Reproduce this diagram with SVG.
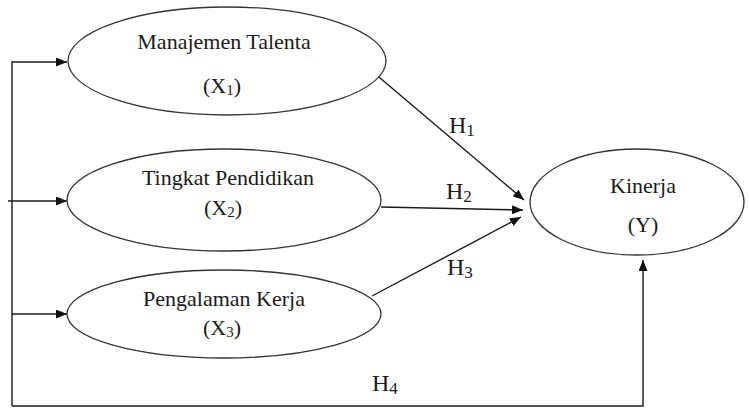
<svg xmlns="http://www.w3.org/2000/svg" width="749" height="411" viewBox="0 0 749 411">
<style>
text{font-family:"Liberation Serif","Times New Roman",serif;font-size:22px;fill:#1a1a1a;text-anchor:middle}
.sub{font-size:15px}
.conn path,.conn line{fill:none;stroke:#1a1a1a;stroke-width:1.4}
.lbl{text-anchor:start;font-size:24px}
.lbl .sub{font-size:17px}
.nd{fill:#fff;stroke:#333;stroke-width:1.3}
</style>
<defs>
<marker id="ah" markerWidth="11" markerHeight="9" refX="11" refY="4.5" orient="auto" markerUnits="userSpaceOnUse">
<path d="M0,0 L11,4.5 L0,9 Z" fill="#111"/>
</marker>
</defs>
<g class="conn" id="connectors">
<path d="M12,406 L12,62 L67,62" marker-end="url(#ah)"/>
<line x1="8" y1="201" x2="67" y2="201" marker-end="url(#ah)"/>
<line x1="12" y1="314" x2="67" y2="314" marker-end="url(#ah)"/>
<path d="M12,406 L643,406 L643,260" marker-end="url(#ah)"/>
<line x1="373" y1="72" x2="524" y2="200" marker-end="url(#ah)"/>
<line x1="381" y1="207" x2="523" y2="210" marker-end="url(#ah)"/>
<line x1="372" y1="296" x2="521" y2="217" marker-end="url(#ah)"/>
</g>
<g id="x1">
<ellipse class="nd" cx="227" cy="61" rx="159" ry="54"/>
<text x="224" y="49">Manajemen Talenta</text>
<text x="222" y="93">(X<tspan class="sub" dy="2">1</tspan><tspan dy="-2">)</tspan></text>
</g>
<g id="x2">
<ellipse class="nd" cx="224" cy="200" rx="157" ry="51"/>
<text x="228" y="185">Tingkat Pendidikan</text>
<text x="223" y="215">(X<tspan class="sub" dy="2">2</tspan><tspan dy="-2">)</tspan></text>
</g>
<g id="x3">
<ellipse class="nd" cx="224" cy="314" rx="157" ry="44"/>
<text x="224" y="306">Pengalaman Kerja</text>
<text x="222" y="335">(X<tspan class="sub" dy="2">3</tspan><tspan dy="-2">)</tspan></text>
</g>
<g id="y">
<ellipse class="nd" cx="637" cy="202" rx="107" ry="53"/>
<text x="643" y="193">Kinerja</text>
<text x="643" y="232">(Y)</text>
</g>
<g id="labels">
<text class="lbl" x="449" y="133">H<tspan class="sub" dy="3">1</tspan></text>
<text class="lbl" x="446" y="199">H<tspan class="sub" dy="3">2</tspan></text>
<text class="lbl" x="447" y="275">H<tspan class="sub" dy="3">3</tspan></text>
<text class="lbl" x="372" y="391">H<tspan class="sub" dy="3">4</tspan></text>
</g>
</svg>
